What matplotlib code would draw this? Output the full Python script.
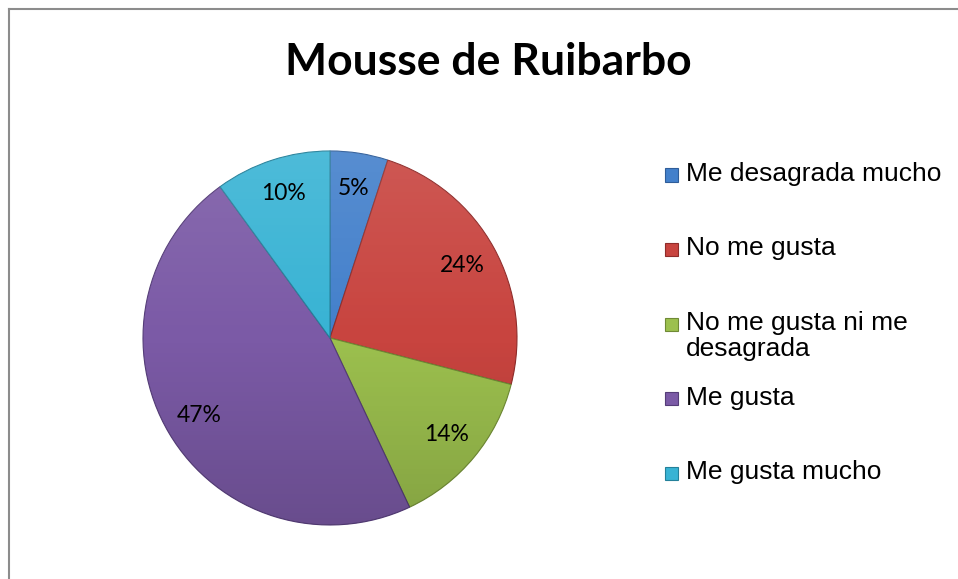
import textwrap
import numpy as np
import matplotlib.pyplot as plt
from matplotlib.lines import Line2D
from matplotlib.patches import Rectangle, Circle

# Encuesta: Mousse de Ruibarbo
title = "Mousse de Ruibarbo"
categories = ["Me desagrada mucho", "No me gusta", "No me gusta ni me desagrada",
              "Me gusta", "Me gusta mucho"]
shares = [5, 24, 14, 47, 10]
colors = ["#4380CB", "#C8443F", "#9CC04E", "#7B5AA6", "#38B3D4"]
edge_colors = ["#2F5D99", "#8F2C2A", "#6F8A35", "#553D78", "#24809A"]

W, H = 958, 579
fig = plt.figure(figsize=(W / 100, H / 100), dpi=100)
fig.patch.set_facecolor("white")

# pie axes: centre (330, 338) px, radius 187 px
cx, cy, r = 330, 338, 187
ax = fig.add_axes([(cx - r) / W, (H - cy - r) / H, 2 * r / W, 2 * r / H])
wedges, texts, autotexts = ax.pie(
    shares, colors=colors, startangle=90, counterclock=False,
    autopct="%1.0f%%", pctdistance=0.81, radius=1.0,
    wedgeprops=dict(linewidth=0.8),
    textprops=dict(fontsize=16.5, family=["Lato", "DejaVu Sans"], color="black"))
for w, ec in zip(wedges, edge_colors):
    w.set_edgecolor(ec)

# soft light-to-dark shading over the whole pie (top lighter, bottom darker)
g = np.linspace(0, 1, 256)[:, None]
shade = np.zeros((256, 2, 4))
shade[..., :3] = np.where(g < 0.5, 1.0, 0.0)[:, :, None]
shade[..., 3] = np.abs(g - 0.5) * np.where(g < 0.5, 0.22, 0.30)
im = ax.imshow(shade, extent=(-1, 1, -1, 1), origin="upper", zorder=1.5,
               interpolation="bilinear", aspect="auto")
im.set_clip_path(Circle((0, 0), 1.0, transform=ax.transData))
for t in autotexts:
    t.set_zorder(3)

ax.set_xlim(-1.0, 1.0)
ax.set_ylim(-1.0, 1.0)
ax.set_aspect("equal")
ax.axis("off")

fig.text(488 / W, 1 - 62 / H, title, ha="center", va="center",
         fontsize=32, fontweight="bold", family=["Lato", "DejaVu Sans"])

# legend drawn by hand so the marker sits on the first text line
leg_x = 665
y = 175
for lab, col, ec in zip(categories, colors, edge_colors):
    wrapped = textwrap.fill(lab, 18)
    fig.patches.append(Rectangle((leg_x / W, 1 - (y + 6.5) / H), 13 / W, 13 / H,
                                 transform=fig.transFigure, facecolor=col,
                                 edgecolor=ec, linewidth=0.8))
    fig.text((leg_x + 21) / W, 1 - (y - 13) / H, wrapped, ha="left", va="top",
             fontsize=19, family=["Liberation Sans", "DejaVu Sans"],
             linespacing=1.12)
    y += 74.5

# chart frame (top and left edges visible)
fig.add_artist(Line2D([8.5 / W, 8.5 / W], [0, 1 - 8.5 / H], transform=fig.transFigure,
                      color="#8C8C8C", linewidth=1.5))
fig.add_artist(Line2D([8.5 / W, 1], [1 - 8.5 / H, 1 - 8.5 / H], transform=fig.transFigure,
                      color="#8C8C8C", linewidth=1.5))

fig.savefig("out.png", dpi=100)
